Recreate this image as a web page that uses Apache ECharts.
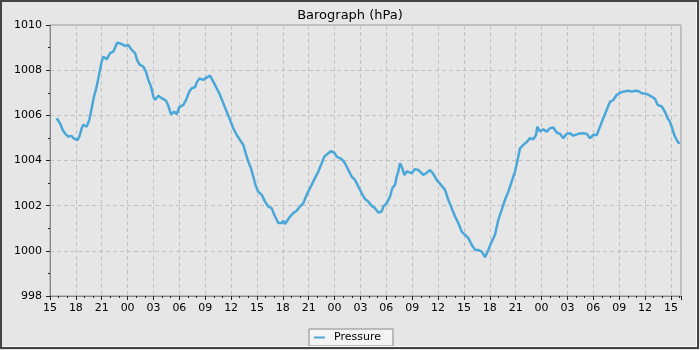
<!DOCTYPE html>
<html>
<head>
<meta charset="utf-8">
<script src="https://cdn.jsdelivr.net/npm/echarts@6/dist/echarts.min.js"></script>
<style>
html,body{margin:0;padding:0;background:#e6e6e6;}
#chart{width:700px;height:350px;}
</style>
</head>
<body>
<div id="chart"></div>
<script>
// hours since 15:00 on day 1
var hours = [0.78,1.16,1.47,1.74,2.12,2.52,2.70,3.17,3.40,3.68,3.86,4.26,4.56,4.83,5.10,5.41,5.72,5.99,6.18,6.57,6.96,7.34,7.80,8.31,8.70,9.08,9.47,9.86,10.12,10.43,10.82,11.13,11.40,11.71,11.98,12.17,12.56,12.95,13.45,13.72,14.03,14.41,14.69,14.99,15.46,15.77,16.15,16.43,16.81,17.01,17.31,17.77,18.17,18.55,18.93,19.33,19.71,20.09,20.49,20.87,21.25,21.65,22.03,22.41,22.69,22.99,23.30,23.57,23.85,24.15,24.55,24.93,25.31,25.70,26.01,26.47,26.86,27.05,27.25,27.83,28.21,28.60,28.99,29.37,29.76,30.14,30.72,31.11,31.50,31.80,32.27,32.58,32.96,33.24,33.82,34.20,34.59,34.98,35.36,35.75,36.14,36.52,36.90,37.30,37.68,38.06,38.46,38.64,39.04,39.42,39.69,40.00,40.20,40.38,40.58,40.78,41.08,41.36,41.54,41.94,42.32,42.70,42.90,43.28,43.68,44.06,44.44,44.83,45.33,45.80,46.18,46.57,46.96,47.34,47.73,48.12,48.50,48.89,49.28,49.66,50.05,50.43,50.75,51.13,51.59,51.98,52.37,52.75,53.14,53.53,53.91,54.22,54.49,54.88,55.34,55.65,56.03,56.35,56.50,56.81,57.19,57.59,57.97,58.35,58.75,59.13,59.51,59.91,60.29,60.68,61.25,61.83,62.23,62.61,62.99,63.39,63.77,64.15,64.54,64.93,65.31,65.70,66.09,66.47,67.05,67.44,67.83,68.21,68.60,69.18,69.76,70.14,70.46,70.92,71.30,71.61,71.88,72.14,72.38,72.66,72.84,73.04];
var pressure = [1005.87,1005.65,1005.35,1005.2,1005.06,1005.09,1004.99,1004.9,1005.06,1005.43,1005.58,1005.5,1005.8,1006.31,1006.83,1007.27,1007.86,1008.38,1008.6,1008.48,1008.75,1008.82,1009.22,1009.16,1009.07,1009.12,1008.9,1008.75,1008.42,1008.23,1008.16,1007.93,1007.57,1007.27,1006.83,1006.68,1006.87,1006.76,1006.65,1006.42,1006.05,1006.16,1006.05,1006.36,1006.46,1006.68,1007.05,1007.2,1007.24,1007.45,1007.64,1007.57,1007.67,1007.76,1007.49,1007.2,1006.9,1006.54,1006.16,1005.8,1005.43,1005.13,1004.91,1004.69,1004.32,1003.95,1003.66,1003.29,1002.88,1002.62,1002.48,1002.18,1001.96,1001.89,1001.59,1001.23,1001.23,1001.33,1001.19,1001.52,1001.67,1001.78,1001.96,1002.11,1002.48,1002.77,1003.22,1003.51,1003.88,1004.17,1004.32,1004.42,1004.35,1004.17,1004.06,1003.88,1003.58,1003.29,1003.14,1002.85,1002.55,1002.29,1002.18,1001.99,1001.89,1001.7,1001.74,1001.96,1002.11,1002.4,1002.77,1002.92,1003.29,1003.51,1003.88,1003.73,1003.36,1003.51,1003.58,1003.44,1003.62,1003.58,1003.58,1003.36,1003.46,1003.58,1003.41,1003.14,1002.92,1002.7,1002.26,1001.89,1001.52,1001.23,1000.85,1000.71,1000.56,1000.27,1000.04,1000.04,999.97,999.72,999.97,1000.34,1000.71,1001.37,1001.81,1002.26,1002.62,1003.07,1003.51,1004.03,1004.54,1004.69,1004.84,1004.99,1004.94,1005.13,1005.5,1005.28,1005.38,1005.28,1005.43,1005.46,1005.24,1005.18,1004.99,1005.18,1005.21,1005.1,1005.18,1005.21,1005.18,1004.99,1005.13,1005.13,1005.5,1005.87,1006.24,1006.6,1006.68,1006.9,1007.0,1007.05,1007.09,1007.05,1007.09,1007.08,1006.98,1006.95,1006.83,1006.73,1006.46,1006.39,1006.16,1005.87,1005.72,1005.43,1005.13,1004.91,1004.79,1004.77];
var startHour = 15;
var xMax = 73.16;
var yMin = 998, yMax = 1010, yStep = 2;
var titleText = 'Barograph (hPa)';
var seriesName = 'Pressure';

var data = hours.map(function (h, i) { return [h, pressure[i]]; });
function pad(n) { return (n < 10 ? '0' : '') + n; }

var font = 'DejaVu Sans';
var chart = echarts.init(document.getElementById('chart'), null, {renderer: 'canvas'});
chart.setOption({
  backgroundColor: '#e6e6e6',
  animation: false,
  title: {
    text: titleText, left: 'center', top: 4,
    textStyle: {fontFamily: font, fontSize: 13, fontWeight: 'normal', color: '#000'}
  },
  legend: {
    left: 309, top: 329,
    padding: [3, 12, 3, 5],
    backgroundColor: '#f4f4f4', borderColor: '#888', borderWidth: 1, borderRadius: 0,
    itemWidth: 11, itemHeight: 2, icon: 'rect',
    textStyle: {fontFamily: font, fontSize: 11, color: '#000', padding: [0, 0, 0, 4]},
    data: [seriesName]
  },
  grid: {
    left: 50, top: 25, right: 19, bottom: 54,
    show: true, borderColor: '#999', borderWidth: 1, backgroundColor: 'transparent'
  },
  xAxis: {
    type: 'value', min: 0, max: xMax, interval: 3,
    axisLine: {show: true, lineStyle: {color: '#888'}},
    axisTick: {show: true, length: 4, lineStyle: {color: '#222'}},
    minorTick: {show: true, splitNumber: 3, length: 2, lineStyle: {color: '#222'}},
    splitLine: {show: true, lineStyle: {color: '#c2c2c2', type: [4, 3]}},
    axisLabel: {
      margin: 7, fontFamily: font, fontSize: 11, color: '#000', showMaxLabel: false,
      formatter: function (v) { return pad((startHour + Math.round(v)) % 24); }
    }
  },
  yAxis: {
    type: 'value', min: yMin, max: yMax, interval: yStep,
    axisLine: {show: true, lineStyle: {color: '#888'}},
    axisTick: {show: true, length: 4, lineStyle: {color: '#222'}},
    minorTick: {show: true, splitNumber: 2, length: 2, lineStyle: {color: '#222'}},
    splitLine: {show: true, lineStyle: {color: '#c2c2c2', type: [4, 3]}},
    axisLabel: {
      margin: 8, fontFamily: font, fontSize: 11, color: '#000',
      formatter: function (v) { return String(Math.round(v)); }
    }
  },
  graphic: [
    {type: 'rect', shape: {x: 1, y: 1, width: 697, height: 347}, style: {fill: null, stroke: '#444', lineWidth: 2}, silent: true, z: 100},
    {type: 'polyline', shape: {points: [[696.5, 2], [696.5, 346.5], [2, 346.5]]}, style: {fill: null, stroke: '#fafafa', lineWidth: 1}, silent: true, z: 100}
  ],
  series: [{
    name: seriesName, type: 'line', data: data,
    showSymbol: false, symbol: 'none',
    color: '#4aa7d9',
    lineStyle: {width: 2.5, color: '#4aa7d9'}
  }]
});
</script>
</body>
</html>
